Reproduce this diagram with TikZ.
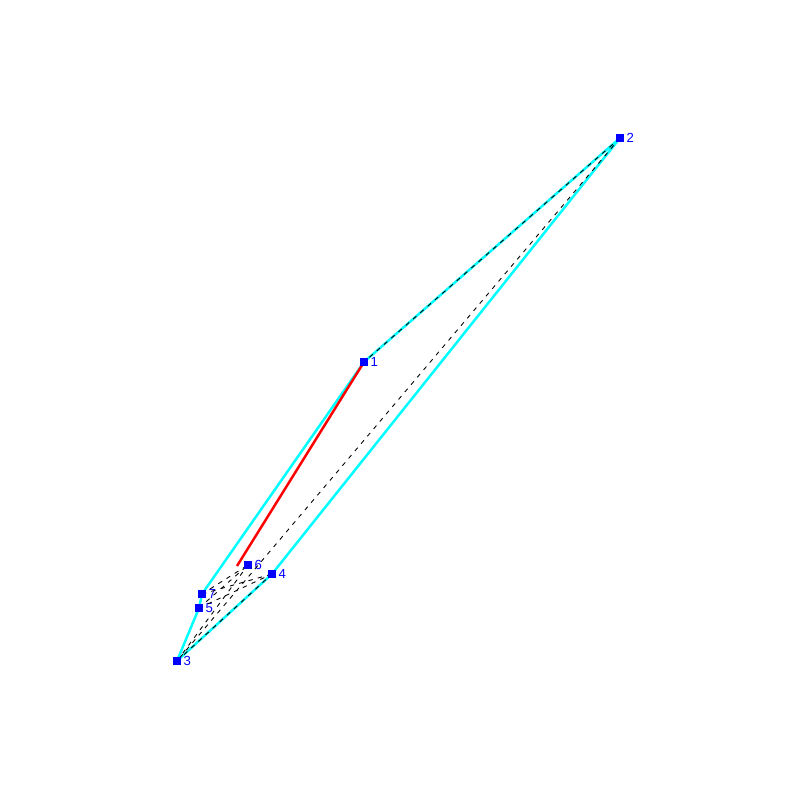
\documentclass[tikz,border=0pt]{standalone}
\usepackage{fontspec}
\setmainfont{Liberation Sans}
\definecolor{aqua}{RGB}{0,255,255}
\definecolor{pblue}{RGB}{0,0,255}
\definecolor{pred}{RGB}{255,0,0}
\begin{document}
\begin{tikzpicture}[x=0.02cm,y=-0.02cm,
  pt/.style={fill=pblue,inner sep=0pt,minimum size=0.16cm,draw=none,
    label={[text=pblue,font=\fontsize{7.5}{8}\selectfont,inner sep=0pt,xshift=0.04cm]right:#1}},
  hull/.style={aqua,line width=1.4pt},
  tri/.style={black,line width=0.5pt,dash pattern=on 2.5pt off 3pt},
  cons/.style={pred,line width=1.4pt}]
\useasboundingbox (0,0) rectangle (800,800);
\node[pt=1] (n1) at (364,362) {};
\node[pt=2] (n2) at (620,138) {};
\node[pt=3] (n3) at (177,661) {};
\node[pt=4] (n4) at (272,574) {};
\node[pt=5] (n5) at (199,608) {};
\node[pt=6] (n6) at (248,565) {};
\node[pt=7] (n7) at (202,594) {};
\coordinate (r6) at (237,566);
\draw[hull] (n2.center) -- (n1.center) -- (n7.center) -- (n5.center) -- (n3.center) -- (n4.center) -- (n2.center);
\draw[cons] (n1.center) -- (r6);
\draw[tri] (n2.center) -- (n1.center);
\draw[tri] (n2.center) -- (n3.center);
\draw[tri] (n3.center) -- (n4.center);
\draw[tri] (n7.center) -- (n6.center);
\draw[tri] (n7.center) -- (n4.center);
\draw[tri] (n5.center) -- (n6.center);
\draw[tri] (n5.center) -- (n4.center);
\draw[tri] (n3.center) -- (n6.center);
\foreach \n in {1,...,7} \fill[pblue] ([shift={(-4,-4)}]n\n.center) rectangle ([shift={(4,4)}]n\n.center);
\end{tikzpicture}
\end{document}
